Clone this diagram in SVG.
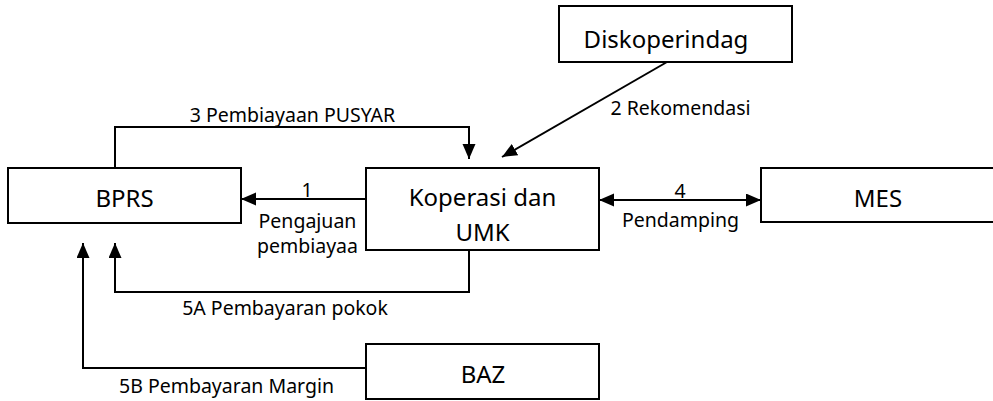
<svg xmlns="http://www.w3.org/2000/svg" width="993" height="401" viewBox="0 0 993 401">
<defs>
<style>
.box{fill:#fff;stroke:#000;stroke-width:2}
.nt{font-family:"Noto Sans","Open Sans",sans-serif;font-size:24px;fill:#000;text-anchor:middle}
.lb{font-family:"Noto Sans","Open Sans",sans-serif;font-size:19.5px;fill:#000;text-anchor:middle}
.cn{fill:none;stroke:#000;stroke-width:2}
</style>
<marker id="ah" markerUnits="userSpaceOnUse" markerWidth="16" markerHeight="14" refX="15" refY="6.5" orient="auto-start-reverse">
<path d="M0,0 L15,6.5 L0,13 Z" fill="#000"/>
</marker>
</defs>
<rect width="993" height="401" fill="#fff"/>
<g id="connectors">
<polyline class="cn" points="115,168 115,127 469,127 469,159" marker-end="url(#ah)"/>
<line class="cn" x1="667" y1="62" x2="502" y2="157" marker-end="url(#ah)"/>
<line class="cn" x1="366" y1="199" x2="241" y2="199" marker-end="url(#ah)"/>
<line class="cn" x1="599" y1="200" x2="761" y2="200" marker-start="url(#ah)" marker-end="url(#ah)"/>
<polyline class="cn" points="469,250 469,292 115,292 115,243" marker-end="url(#ah)"/>
<polyline class="cn" points="366,368 83,368 83,243" marker-end="url(#ah)"/>
<text class="lb" x="292.5" y="122">3 Pembiayaan PUSYAR</text>
<text class="lb" x="680.5" y="115">2 Rekomendasi</text>
<text class="lb" x="307" y="197">1</text>
<text class="lb" x="307.5" y="228">Pengajuan</text>
<text class="lb" x="307.5" y="253">pembiayaa</text>
<text class="lb" x="680" y="198">4</text>
<text class="lb" x="680.5" y="227">Pendamping</text>
<text class="lb" x="285" y="315">5A Pembayaran pokok</text>
<text class="lb" x="226.5" y="393">5B Pembayaran Margin</text>
</g>
<g id="diskoperindag">
<rect class="box" x="559" y="6" width="233" height="56"/>
<text class="nt" x="666" y="48">Diskoperindag</text>
</g>
<g id="bprs">
<rect class="box" x="8" y="168" width="233" height="55"/>
<text class="nt" x="124.5" y="207">BPRS</text>
</g>
<g id="koperasi">
<rect class="box" x="366" y="168" width="233" height="82"/>
<text class="nt" x="482.5" y="206">Koperasi dan</text>
<text class="nt" x="482.5" y="241">UMK</text>
</g>
<g id="mes">
<rect class="box" x="761" y="168" width="233" height="54"/>
<text class="nt" x="878" y="207">MES</text>
</g>
<g id="baz">
<rect class="box" x="366" y="344" width="233" height="55"/>
<text class="nt" x="483" y="383">BAZ</text>
</g>
</svg>
